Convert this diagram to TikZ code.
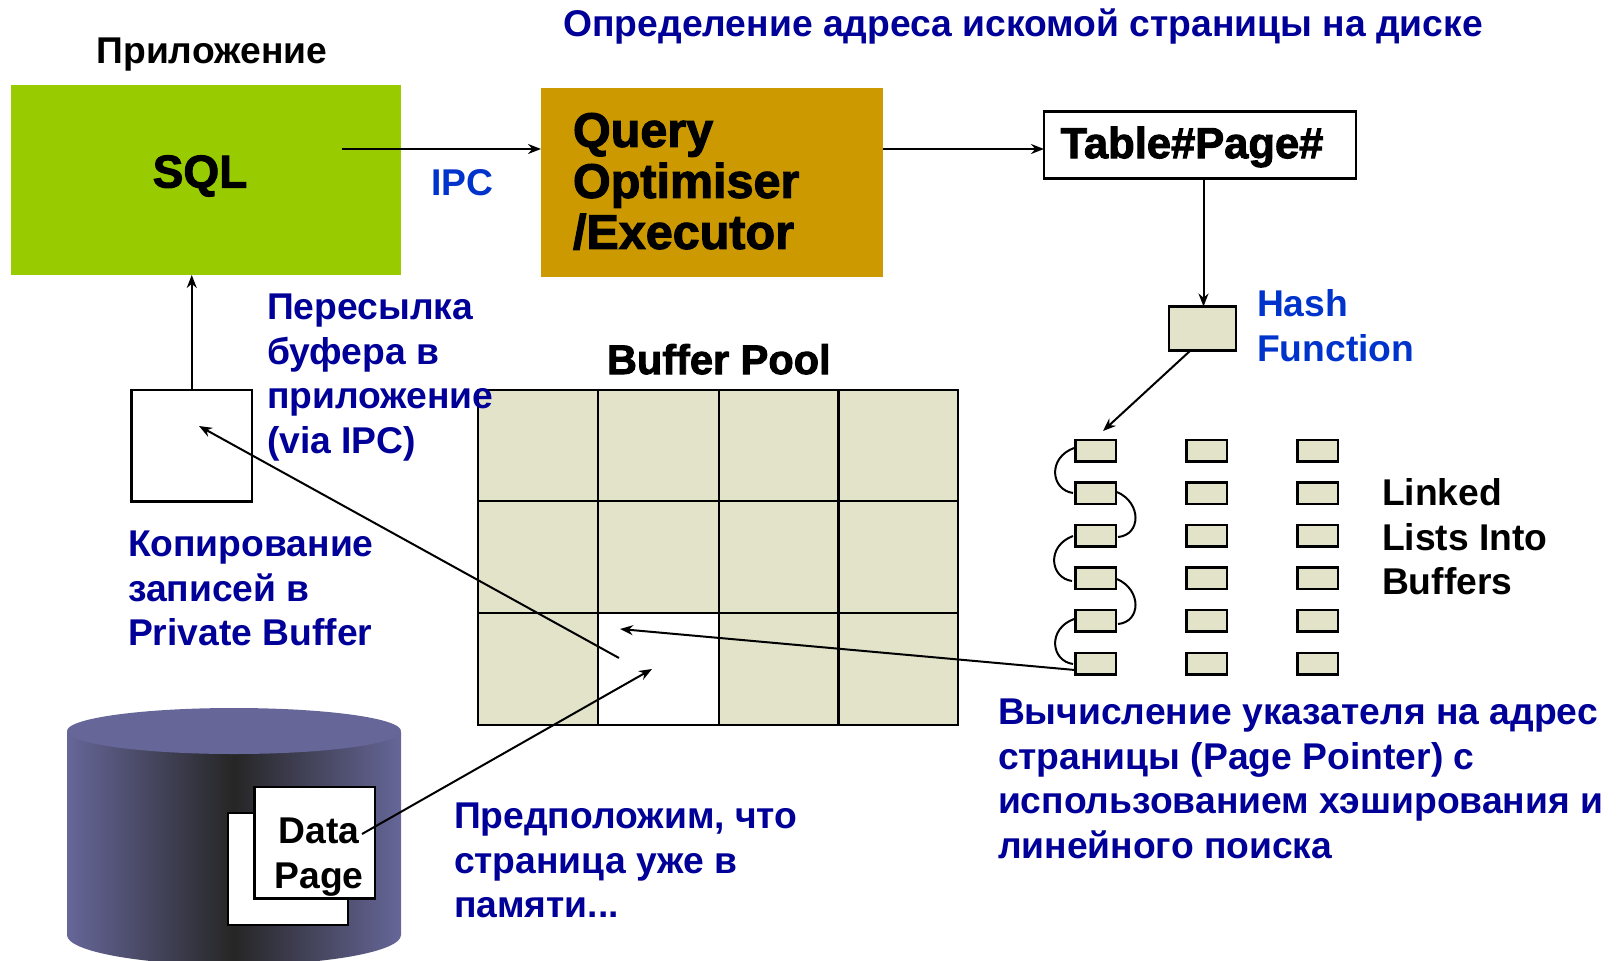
\documentclass[tikz,border=0pt]{standalone}
\usepackage{fontspec}
\setmainfont{Liberation Sans}
\newfontfamily\heavyfont[BoldFont={Liberation Sans Bold},BoldFeatures={FakeBold=2.2}]{Liberation Sans}
\usetikzlibrary{arrows.meta}
\definecolor{cream}{HTML}{E3E3C9}
\definecolor{dkblue}{HTML}{000099}
\definecolor{midblue}{HTML}{0033CC}
\definecolor{lime}{HTML}{99CC00}
\definecolor{ochre}{HTML}{CC9900}
\definecolor{disk}{HTML}{666699}
\definecolor{diskdark}{HTML}{262626}
\pgfdeclarehorizontalshading{diskshade}{100bp}{color(0bp)=(disk);color(25bp)=(disk);color(50bp)=(diskdark);color(75bp)=(disk);color(100bp)=(disk)}
\tikzset{
 lbl/.style={inner sep=0pt,outer sep=0pt,anchor=north west,align=left,font=\fontsize{37.25}{44.5}\selectfont\bfseries},
 blue1/.style={lbl,text=dkblue},
 blue2/.style={lbl,text=midblue},
 blk/.style={lbl,text=black},
 heavy/.style={inner sep=0pt,outer sep=0pt,text=black,font=\heavyfont\bfseries},
 cell/.style={draw=black,line width=2.3pt,fill=cream,inner sep=0pt,outer sep=0pt,anchor=north west},
 box/.style={draw=black,line width=2.3pt,fill=white,inner sep=0pt,outer sep=0pt,anchor=north west},
 flat/.style={inner sep=0pt,outer sep=0pt,anchor=north west},
 conn/.style={draw=black,line width=2pt,-{Stealth[length=13pt,width=10pt]}},
 link/.style={draw=black,line width=2pt},
}
\begin{document}
\begin{tikzpicture}[x=1pt,y=-1pt]
\useasboundingbox (0,0) rectangle (1617,961);
% coloured boxes
\node[flat,fill=lime,minimum width=390pt,minimum height=190pt] (sql) at (11,85) {};
\node[heavy,font=\heavyfont\bfseries\fontsize{46}{51}\selectfont] (sqlt) at (200,176) {SQL};
\node[flat,fill=ochre,minimum width=342pt,minimum height=189pt] (qo) at (541,88) {};
\node[heavy,anchor=north west,align=left,font=\heavyfont\bfseries\fontsize{48.5}{51}\selectfont] (qot) at (573,113) {Query\\Optimiser\\/Executor};
\node[box,minimum width=312pt,minimum height=67pt] (tp) at (1044,111.5) {};
\node[heavy,font=\heavyfont\bfseries\fontsize{43.5}{51}\selectfont] (tpt) at (1192,147) {Table\#Page\#};
\node[cell,minimum width=67pt,minimum height=44pt] (hash) at (1169,306.5) {};
% buffer pool
\foreach \c/\xa/\xb in {0/478/598,1/598/719,2/719/838.5,3/838.5/958}{
 \foreach \r/\ya/\yb in {0/390/501,1/501/613,2/613/725}{
  \pgfmathtruncatemacro{\isfree}{(\c==1)&&(\r==2)}
  \ifnum\isfree=1
   \node[box,minimum width={\xb pt-\xa pt},minimum height={\yb pt-\ya pt}] (p\c\r) at (\xa,\ya) {};
  \else
   \node[cell,minimum width={\xb pt-\xa pt},minimum height={\yb pt-\ya pt}] (p\c\r) at (\xa,\ya) {};
  \fi
 }}
% private buffer
\node[box,minimum width=120.5pt,minimum height=111.5pt] (priv) at (131.5,390) {};
% hash lists
\foreach \c/\x in {0/1075.5,1/1186.5,2/1297.5}{
 \foreach \r/\y in {0/440,1/482.5,2/525,3/567.5,4/610,5/653}{
  \node[cell,minimum width=40.5pt,minimum height=21.5pt] (l\c\r) at (\x,\y) {};
 }}
% disk
\begin{scope}
\clip (0,0) rectangle (1617,961);
\path[shading=diskshade] (67,732) -- (401,732) -- (401,935) arc[start angle=0,end angle=180,x radius=167,y radius=30] -- cycle;
\end{scope}
\fill[disk] (234,731) ellipse[x radius=167,y radius=23];
\node[box,minimum width=120pt,minimum height=112pt] (pg2) at (228,813) {};
\node[box,minimum width=120.5pt,minimum height=111.5pt] (pg1) at (254.5,787) {};
% free ends
\coordinate (sqlout) at (342,149);
\coordinate (privin) at (199,426);
\coordinate (poolout) at (619,658);
\coordinate (poolin) at (620,629);
\coordinate (poolin2) at (652,669);
\coordinate (pgout) at (362,834);
\coordinate (listin) at (1103,431);
\coordinate (hashout) at (1191,350);
\coordinate (listout) at (1075,670);
% connectors
\draw[conn] (sqlout) -- (qo.west |- sqlout);
\draw[conn] (qo.east |- sqlout) -- (tp.west |- sqlout);
\draw[conn,transform canvas={xshift=1pt}] (tp.south -| hash.north) -- (hash.north);
\draw[conn] (hashout) -- (listin);
\draw[conn] (priv.north) -- (priv.north |- sql.south);
\draw[conn] (poolout) -- (privin);
\draw[conn] (listout) -- (poolin);
\draw[conn] (pgout) -- (poolin2);
% list links
\draw[link] (1074,448) .. controls (1047,458) and (1051,490) .. (1073,493);
\draw[link] (1117,492) .. controls (1142,503) and (1141,535) .. (1118,537);
\draw[link] (1073,536) .. controls (1046,546) and (1050,578) .. (1072,581);
\draw[link] (1117,579) .. controls (1142,590) and (1141,622) .. (1118,624);
\draw[link] (1074,619) .. controls (1047,629) and (1051,661) .. (1073,664);
% labels
\node[blk] (app) at (96.5,38) {Приложение};
\node[blue1] (top) at (563.5,9) {Определение адреса искомой страницы на диске};
\node[blue2] (ipc) at (431,169.5) {IPC};
\node[blue2] (hf) at (1257,290) {Hash\\Function};
\node[blue1] (send) at (267,294) {Пересылка\\буфера в\\приложение\\(via IPC)};
\node[heavy,anchor=north west,font=\heavyfont\bfseries\fontsize{41.5}{44}\selectfont] (bp) at (607,344) {Buffer Pool};
\node[blue1] (copy) at (128,531) {Копирование\\записей в\\Private Buffer};
\node[blk] (ll) at (1382,479) {Linked\\Lists Into\\Buffers};
\node[blue1] (calc) at (998,699) {Вычисление указателя на адрес\\страницы (Page Pointer) с\\использованием хэширования и\\линейного поиска};
\node[blue1] (mem) at (454,803) {Предположим, что\\страница уже в\\памяти...};
\node[blk,anchor=north,align=center] (dp) at (319,818) {Data\\Page};
\end{tikzpicture}
\end{document}
